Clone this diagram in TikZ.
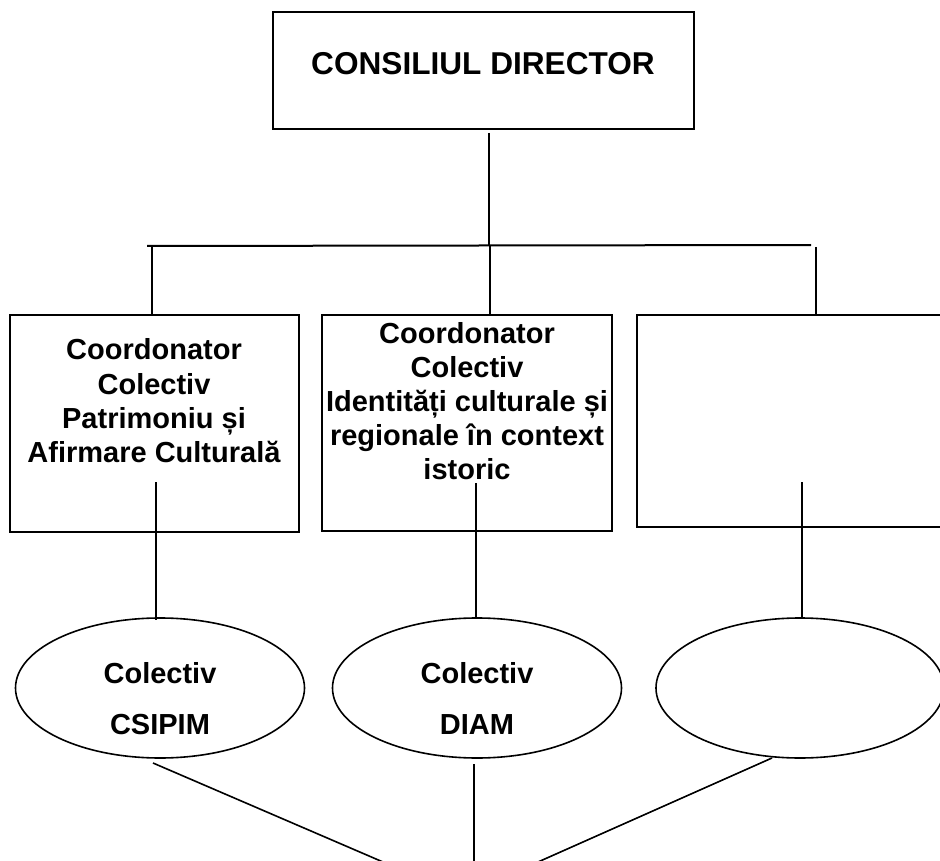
\documentclass[tikz,border=0pt]{standalone}
\usepackage{fontspec}
\setmainfont{Liberation Sans}
\usetikzlibrary{shapes.geometric}
\tikzset{
  boxnode/.style={draw=black, line width=2pt, rectangle, inner sep=0pt},
  ellnode/.style={draw=black, line width=1.6pt, ellipse, inner sep=0pt, minimum width=289pt, minimum height=140pt},
  conn/.style={draw=black, line width=1.6pt},
  lbl/.style={anchor=base, inner sep=0pt, font=\fontsize{29}{34}\selectfont\bfseries},
  ttl/.style={anchor=base, inner sep=0pt, font=\fontsize{31.6}{36}\selectfont\bfseries}
}
\begin{document}
\begin{tikzpicture}[x=1pt,y=-1pt]
\useasboundingbox (0,0) rectangle (940,861);
\clip (0,0) rectangle (940,861);
% boxes
\node[boxnode, minimum width=421pt, minimum height=117pt] (top) at (483.5,70.5) {};
\node[boxnode, minimum width=289pt, minimum height=217pt] (b1) at (154.5,423.5) {};
\node[boxnode, minimum width=290pt, minimum height=216pt] (b2) at (467,423) {};
\node[boxnode, minimum width=323pt, minimum height=212pt] (b3) at (798.5,421) {};
% ellipses
\node[ellnode] (e1) at (160,688) {};
\node[ellnode] (e2) at (477,688) {};
\node[ellnode, minimum width=288pt] (e3) at (800,688) {};
% texts
\node[ttl] (ttext) at (483,75) {CONSILIUL DIRECTOR};
\node[lbl] (b1l1) at (154,359) {Coordonator};
\node[lbl] (b1l2) at (154,394) {Colectiv};
\node[lbl] (b1l3) at (154,428) {Patrimoniu și};
\node[lbl] (b1l4) at (154,462) {Afirmare Culturală};
\node[lbl] (b2l1) at (467,343) {Coordonator};
\node[lbl] (b2l2) at (467,377) {Colectiv};
\node[lbl] (b2l3) at (467,411) {Identități culturale și};
\node[lbl] (b2l4) at (467,445) {regionale în context};
\node[lbl] (b2l5) at (467,479) {istoric};
\node[lbl] (e1l1) at (160,683) {Colectiv};
\node[lbl] (e1l2) at (160,734) {CSIPIM};
\node[lbl] (e2l1) at (477,683) {Colectiv};
\node[lbl] (e2l2) at (477,734) {DIAM};
% connector points
\coordinate (topout) at (489,133);
\coordinate (busL) at (147,246);
\coordinate (busM) at (489,246);
\coordinate (busR) at (811,245);
\coordinate (d1) at (152,246);
\coordinate (d2) at (490,246);
\coordinate (d3) at (816,247);
\coordinate (b1in) at (156,482);
\coordinate (b2in) at (476,483);
\coordinate (b3in) at (802,482);
\coordinate (e1top) at (156,620);
\coordinate (e2top) at (476,619);
\coordinate (e3top) at (802,619);
\coordinate (e1out) at (153,763);
\coordinate (e2out) at (474,764);
\coordinate (e3out) at (772,758);
\coordinate (fL) at (383,862);
\coordinate (fM) at (474,862);
\coordinate (fR) at (538,862);
% connectors
\draw[conn] (topout) -- (busM);
\draw[conn, line width=2pt] (busL) -- (busR);
\draw[conn] (d1) -- (d1 |- b1.north);
\draw[conn] (d2) -- (d2 |- b2.north);
\draw[conn, line width=2pt] (d3) -- (d3 |- b3.north);
\draw[conn] (b1in) -- (e1top);
\draw[conn] (b2in) -- (e2top);
\draw[conn] (b3in) -- (e3top);
\draw[conn] (e1out) -- (fL);
\draw[conn] (e2out) -- (fM);
\draw[conn] (e3out) -- (fR);
\end{tikzpicture}
\end{document}
